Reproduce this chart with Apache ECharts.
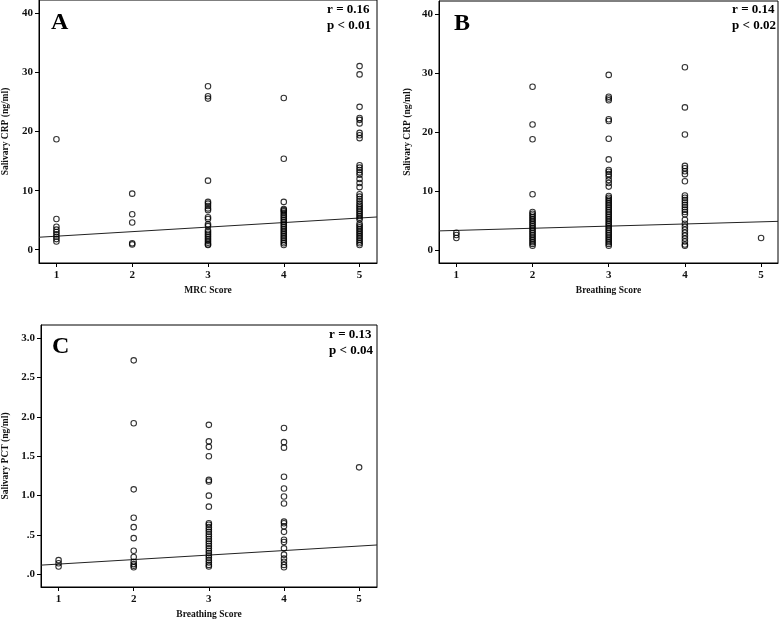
<!DOCTYPE html>
<html>
<head>
<meta charset="utf-8">
<script src="https://cdn.jsdelivr.net/npm/echarts@6/dist/echarts.min.js"></script>
<style>
html,body{margin:0;padding:0;background:#fff;}
#chart{width:779px;height:621px;}
</style>
</head>
<body>
<div id="chart"></div>
<script>
// ---------- data ----------
const scoreTicks = [1, 2, 3, 4, 5];
// Panel A: Salivary CRP (ng/ml) by MRC Score (index 0 -> score 1)
const crpByMrcScore = [
  [18.7, 5.2, 3.9, 3.4, 3.0, 2.6, 2.2, 1.8, 1.4],
  [9.5, 6.0, 4.6, 1.1, 0.9],
  [27.7, 26.0, 25.6, 11.7, 8.1, 7.8, 7.4, 7.0, 6.7, 5.5, 5.2, 4.3, 4.0, 3.3, 3.0, 2.7, 2.4, 2.1, 1.8, 1.5, 1.2, 0.9, 0.8],
  [25.7, 15.4, 8.1, 6.9, 6.7, 6.5, 6.2, 5.9, 5.6, 5.3, 5.0, 4.7, 4.4, 4.1, 3.8, 3.5, 3.2, 2.9, 2.6, 2.3, 2.0, 1.7, 1.4, 1.1, 0.8],
  [31.1, 29.7, 24.2, 22.3, 22.0, 21.4, 19.8, 19.4, 18.9, 14.3, 13.9, 13.5, 13.1, 12.7, 12.0, 11.3, 10.6, 9.4, 9.0, 8.6, 8.2, 7.8, 7.5, 7.2, 6.9, 6.6, 6.3, 6.0, 5.7, 5.4, 5.1, 4.4, 4.1, 3.8, 3.5, 3.2, 2.9, 2.6, 2.3, 2.0, 1.7, 1.4, 1.1, 0.8]
];
// Panel B: Salivary CRP (ng/ml) by Breathing Score
const crpByBreathingScore = [
  [3.0, 2.6, 2.1],
  [27.7, 21.3, 18.8, 9.5, 6.5, 6.2, 5.9, 5.6, 5.3, 5.0, 4.7, 4.4, 4.1, 3.8, 3.5, 3.2, 2.9, 2.6, 2.3, 2.0, 1.7, 1.4, 1.1, 0.8],
  [29.7, 26.0, 25.7, 25.4, 22.2, 21.9, 18.9, 15.4, 13.6, 13.3, 12.9, 12.5, 11.9, 11.4, 10.8, 9.2, 8.9, 8.6, 8.3, 8.0, 7.7, 7.4, 7.1, 6.8, 6.5, 6.2, 5.9, 5.6, 5.3, 5.0, 4.7, 4.4, 4.1, 3.8, 3.5, 3.2, 2.9, 2.6, 2.3, 2.0, 1.7, 1.4, 1.1, 0.8],
  [31.0, 24.2, 19.6, 14.3, 13.9, 13.4, 12.9, 11.7, 9.3, 8.9, 8.5, 8.1, 7.7, 7.3, 6.9, 6.5, 6.1, 5.2, 4.5, 4.0, 3.5, 3.0, 2.5, 2.0, 1.5, 1.0, 0.8],
  [2.1]
];
// Panel C: Salivary PCT (ng/ml) by Breathing Score
const pctByBreathingScore = [
  [0.18, 0.14, 0.10],
  [2.72, 1.92, 1.08, 0.72, 0.60, 0.46, 0.30, 0.22, 0.16, 0.13, 0.11, 0.09],
  [1.90, 1.69, 1.62, 1.50, 1.20, 1.18, 1.00, 0.86, 0.65, 0.63, 0.60, 0.57, 0.54, 0.51, 0.48, 0.45, 0.42, 0.39, 0.36, 0.33, 0.30, 0.27, 0.24, 0.21, 0.18, 0.15, 0.12, 0.10],
  [1.86, 1.68, 1.61, 1.24, 1.09, 0.99, 0.90, 0.67, 0.65, 0.61, 0.54, 0.44, 0.41, 0.33, 0.25, 0.20, 0.16, 0.12, 0.09],
  [1.36]
];
// Fit lines (intercept, slope)
const fitIntercepts = [1.52, 3.02, 0.073];
const fitSlopes = [0.77, 0.363, 0.0573];
const crpTicks = [0, 10, 20, 30, 40];
const pctTicks = [0, 0.5, 1.0, 1.5, 2.0, 2.5, 3.0];
const pctTickLabels = ['.0', '.5', '1.0', '1.5', '2.0', '2.5', '3.0'];
const panelLetters = ['A', 'B', 'C'];
const rTexts = ['r = 0.16', 'r = 0.14', 'r = 0.13'];
const pTexts = ['p < 0.01', 'p < 0.02', 'p < 0.04'];
const xNames = ['MRC Score', 'Breathing Score', 'Breathing Score'];
const yNames = ['Salivary CRP (ng/ml)', 'Salivary CRP (ng/ml)', 'Salivary PCT (ng/ml)'];

// ---------- layout ----------
const FONT = '"Liberation Serif", "Times New Roman", serif';
const panels = [
  {grid: {left: 37, top: 0, width: 340, height: 263}, x: [0.77, 5.23], y: [-2.25, 42.3], yTicks: crpTicks, yLabels: null, data: crpByMrcScore, yGap: 28,
   letter: {left: 51, top: 11}, r: {right: 408, top: 2}},
  {grid: {left: 439, top: 1, width: 339, height: 262}, x: [0.772, 5.222], y: [-2.13, 42.2], yTicks: crpTicks, yLabels: null, data: crpByBreathingScore, yGap: 26,
   letter: {left: 454, top: 12}, r: {right: 3, top: 2}},
  {grid: {left: 39, top: 325, width: 338, height: 262}, x: [0.766, 5.238], y: [-0.161, 3.169], yTicks: pctTicks, yLabels: pctTickLabels, data: pctByBreathingScore, yGap: 30,
   letter: {left: 52, top: 335}, r: {right: 406, top: 327}}
];

const grids = [], xAxes = [], yAxes = [], series = [], graphics = [];
panels.forEach((p, i) => {
  grids.push(Object.assign({show: true, borderColor: '#000', borderWidth: 1, backgroundColor: 'transparent'}, p.grid));
  xAxes.push({
    type: 'value', gridIndex: i, min: p.x[0], max: p.x[1],
    name: xNames[i], nameLocation: 'middle', nameGap: 23,
    nameTextStyle: {fontFamily: FONT, fontSize: 9.5, fontWeight: 'bold', color: '#111'},
    axisLine: {show: true, onZero: false, lineStyle: {color: '#000', width: 1}},
    axisTick: {show: true, length: 4, customValues: scoreTicks, lineStyle: {color: '#000'}},
    axisLabel: {customValues: scoreTicks, margin: 7, fontFamily: FONT, fontSize: 11, fontWeight: 'bold', color: '#111'},
    splitLine: {show: false}
  });
  yAxes.push({
    type: 'value', gridIndex: i, min: p.y[0], max: p.y[1],
    name: yNames[i], nameLocation: 'middle', nameGap: p.yGap, nameRotate: 90,
    nameTextStyle: {fontFamily: FONT, fontSize: 9.5, fontWeight: 'bold', color: '#111'},
    axisLine: {show: true, onZero: false, lineStyle: {color: '#000', width: 1}},
    axisTick: {show: true, length: 4, customValues: p.yTicks, lineStyle: {color: '#000'}},
    axisLabel: {customValues: p.yTicks, margin: 6, fontFamily: FONT, fontSize: 11, fontWeight: 'bold', color: '#111',
      formatter: v => {
        if (!p.yLabels) return String(Math.round(v));
        const k = p.yTicks.findIndex(t => Math.abs(t - v) < 1e-6);
        return k >= 0 ? p.yLabels[k] : '';
      }},
    splitLine: {show: false}
  });
  const pts = [];
  p.data.forEach((vals, k) => vals.forEach(v => pts.push([scoreTicks[k], v])));
  series.push({
    type: 'scatter', xAxisIndex: i, yAxisIndex: i, data: pts, symbol: 'circle', symbolSize: 5.5,
    itemStyle: {color: 'rgba(0,0,0,0)', borderColor: '#000', borderWidth: 1.1}, silent: true, animation: false, z: 3
  });
  series.push({
    type: 'line', xAxisIndex: i, yAxisIndex: i, symbol: 'none', animation: false, silent: true, z: 2,
    lineStyle: {color: '#222', width: 1},
    data: [p.x[0], p.x[1]].map(x => [x, fitIntercepts[i] + fitSlopes[i] * x])
  });
  graphics.push({type: 'text', left: p.letter.left, top: p.letter.top,
    style: {text: panelLetters[i], fontFamily: FONT, fontSize: 24, fontWeight: 'bold', fill: '#000'}});
  graphics.push({type: 'text', right: p.r.right, top: p.r.top,
    style: {text: rTexts[i] + '\n' + pTexts[i], fontFamily: FONT, fontSize: 13, fontWeight: 'bold', fill: '#000', align: 'right', lineHeight: 16}});
});

const chart = echarts.init(document.getElementById('chart'), null, {renderer: 'canvas'});
chart.setOption({
  animation: false,
  backgroundColor: '#fff',
  grid: grids, xAxis: xAxes, yAxis: yAxes, series: series, graphic: graphics
});
</script>
</body>
</html>
